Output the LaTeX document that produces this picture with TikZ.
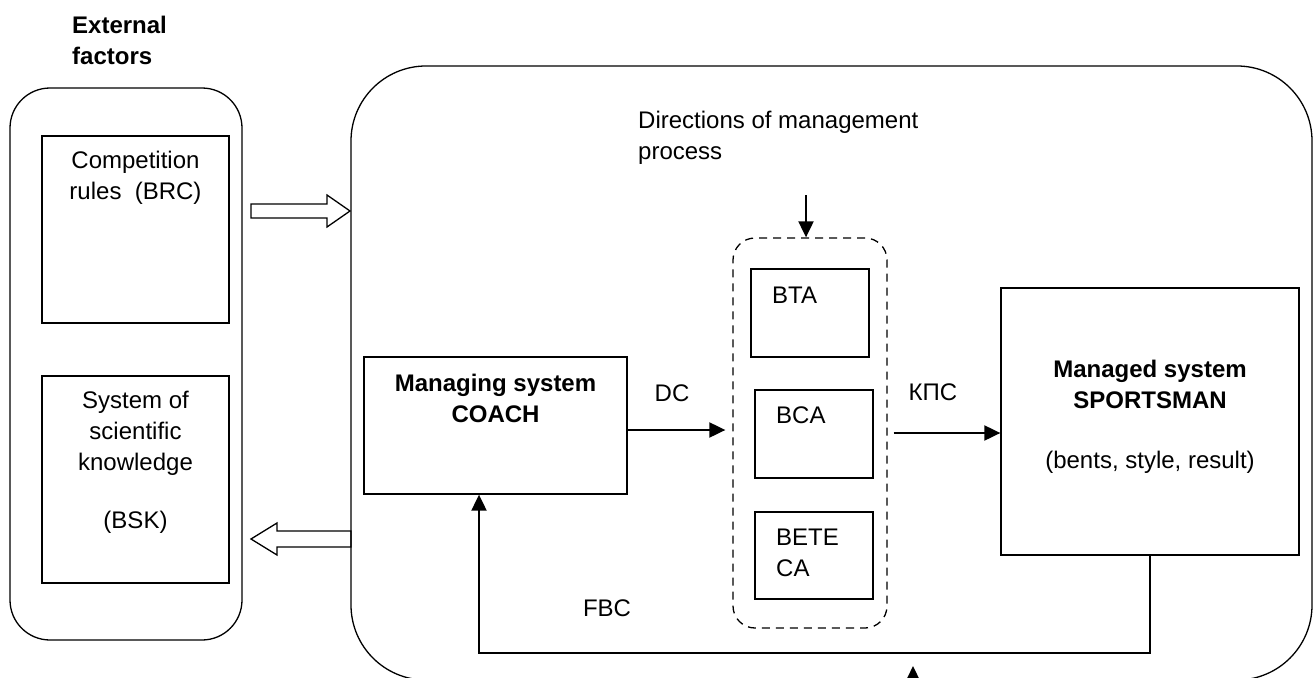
\documentclass[tikz,border=0pt]{standalone}
\usepackage{fontspec}
\setmainfont{Liberation Sans}
\usetikzlibrary{arrows.meta}

\begin{document}
\begin{tikzpicture}[x=1pt, y=-1pt,
    every node/.style={font=\fontsize{24}{31}\selectfont, inner sep=0pt},
    bold/.style={font=\fontsize{24}{31}\selectfont\bfseries},
    frame/.style={draw, line width=1.3pt, rounded corners=#1},
    box/.style={draw, line width=1.3pt},
    hollow/.style={draw, line width=1.3pt, line join=miter},
    arr/.style={line width=2pt, -{Triangle[length=16pt,width=15pt]}}]
  \useasboundingbox (0,0) rectangle (1313,677);

  % outer frames
  \node[frame=40pt, minimum width=232pt, minimum height=552pt] (ext) at (126,364) {};
  \node[frame=75pt, minimum width=961pt, minimum height=614pt] (mgmt) at (831.5,373) {};
  \node[bold, anchor=west, align=left] (exttitle) at (72,40) {External\\factors};

  % external boxes
  \node[box, minimum width=187pt, minimum height=187pt] (brc) at (135.5,229.5) {};
  \node[box, minimum width=187pt, minimum height=207pt] (bsk) at (135.5,479.5) {};
  \node[align=center] (brctext) at (135.5,178) {Competition\\rules~ (BRC)};
  \node[align=center] (bsktext) at (135.5,462.5) {System of\\scientific\\knowledge\\[27pt](BSK)};

  % hollow arrows
  \coordinate (inR) at (350,211);
  \coordinate (outL) at (251,539);
  \draw[hollow] (inR) -- ++(-23,-16) -- ++(0,9) -- ++(-76,0) -- ++(0,14) -- ++(76,0) -- ++(0,9) -- cycle;
  \draw[hollow] (outL) -- ++(26,-16) -- ++(0,8) -- ++(74,0) -- ++(0,16) -- ++(-74,0) -- ++(0,8) -- cycle;

  % management process
  \node[box, minimum width=263pt, minimum height=137pt] (coach) at (495.5,425.5) {};
  \node[bold, align=center] (coachtext) at (495.5,398) {Managing system\\COACH};
  \node[draw, line width=1.3pt, dash pattern=on 8pt off 6pt, rounded corners=22pt,
        minimum width=154pt, minimum height=390pt] (dir) at (810,433) {};
  \node[box, minimum width=118pt, minimum height=88pt] (bta) at (810,313) {};
  \node[box, minimum width=118pt, minimum height=88pt] (bca) at (814,434) {};
  \node[box, minimum width=118pt, minimum height=87pt] (bete) at (814,555.5) {};
  \node[anchor=west] (btatext) at (772,295) {BTA};
  \node[anchor=west] (bcatext) at (776,415) {BCA};
  \node[anchor=west, align=left] (betetext) at (776,552.5) {BETE\\CA};
  \node[anchor=west, align=left] (dirtext) at (638,137.5) {Directions of management\\process};
  \node[box, minimum width=298pt, minimum height=267pt] (man) at (1150,421.5) {};
  \node[align=center] (mantext) at (1150,417) {\textbf{Managed system}\\\textbf{SPORTSMAN}\\[29pt](bents, style, result)};

  % labels
  \node (dc) at (672,393) {DC};
  \node (kps) at (933,392) {КПС};
  \node (fbc) at (607,608) {FBC};

  % connectors
  \coordinate (dirin) at (806,195);
  \coordinate (fbl) at (479,653);
  \coordinate (fbin) at (913,700);
  \coordinate (fbtip) at (913,666);
  \draw[arr, shorten >=7pt] ([yshift=-4.5pt]coach.east) -- ([yshift=-4.5pt]coach.east -| dir.west);
  \draw[arr, shorten <=6pt] (dir.east) -- (dir.east -| man.west);
  \draw[arr] (dirin) -- (dirin |- dir.north);
  \draw[arr] (man.south) |- (fbl) -- (fbl |- coach.south);
  \draw[arr] (fbin) -- (fbtip);
\end{tikzpicture}
\end{document}
